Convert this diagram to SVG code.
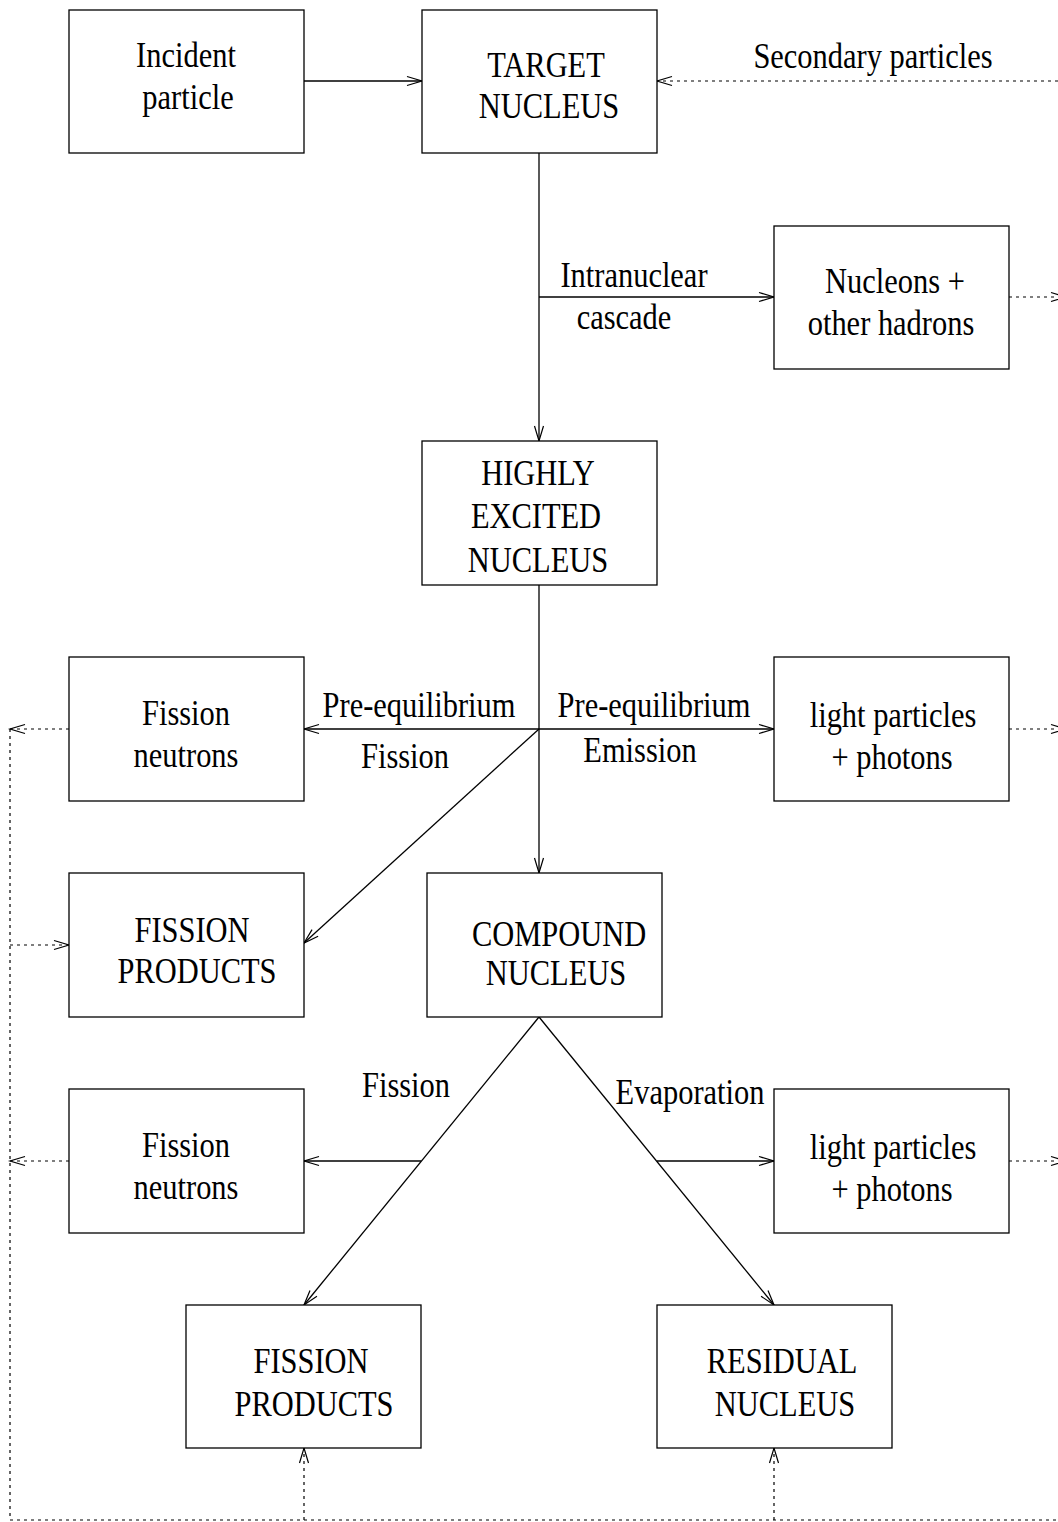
<svg xmlns="http://www.w3.org/2000/svg" width="1058" height="1522" viewBox="0 0 1058 1522">
<style>
.box{fill:#fff;stroke:#000;stroke-width:1.3}
.ln{fill:none;stroke:#000;stroke-width:1.3}
.dot{fill:none;stroke:#000;stroke-width:1.2;stroke-dasharray:3 4}
text{font-family:"Liberation Serif","Times New Roman",serif;font-size:35px;fill:#000;text-anchor:middle}
</style>
<defs>
<marker id="ah" markerUnits="userSpaceOnUse" markerWidth="20" markerHeight="12" refX="16" refY="6" orient="auto" overflow="visible">
<path d="M1,1.5 L16,6 L1,10.5" fill="none" stroke="#000" stroke-width="1.2"/>
</marker>
</defs>
<g id="connectors">
<line class="ln" x1="304" y1="81" x2="422" y2="81" marker-end="url(#ah)"/>
<line class="dot" x1="1058" y1="81" x2="657" y2="81" marker-end="url(#ah)"/>
<line class="ln" x1="539" y1="153" x2="539" y2="441" marker-end="url(#ah)"/>
<line class="ln" x1="539" y1="297" x2="774" y2="297" marker-end="url(#ah)"/>
<line class="dot" x1="1009" y1="297" x2="1066" y2="297" marker-end="url(#ah)"/>
<line class="ln" x1="539" y1="585" x2="539" y2="873" marker-end="url(#ah)"/>
<line class="ln" x1="539" y1="729" x2="304" y2="729" marker-end="url(#ah)"/>
<line class="ln" x1="539" y1="729" x2="774" y2="729" marker-end="url(#ah)"/>
<line class="ln" x1="539" y1="729" x2="304" y2="943" marker-end="url(#ah)"/>
<line class="dot" x1="69" y1="729" x2="10" y2="729" marker-end="url(#ah)"/>
<line class="dot" x1="1009" y1="729" x2="1066" y2="729" marker-end="url(#ah)"/>
<line class="dot" x1="10" y1="945" x2="69" y2="945" marker-end="url(#ah)"/>
<line class="ln" x1="539" y1="1017" x2="304" y2="1305" marker-end="url(#ah)"/>
<line class="ln" x1="539" y1="1017" x2="774" y2="1305" marker-end="url(#ah)"/>
<line class="ln" x1="421" y1="1161" x2="304" y2="1161" marker-end="url(#ah)"/>
<line class="ln" x1="657" y1="1161" x2="774" y2="1161" marker-end="url(#ah)"/>
<line class="dot" x1="69" y1="1161" x2="10" y2="1161" marker-end="url(#ah)"/>
<line class="dot" x1="1009" y1="1161" x2="1066" y2="1161" marker-end="url(#ah)"/>
<line class="dot" x1="10" y1="729" x2="10" y2="1520"/>
<line class="dot" x1="10" y1="1520" x2="1058" y2="1520"/>
<line class="dot" x1="304" y1="1520" x2="304" y2="1448" marker-end="url(#ah)"/>
<line class="dot" x1="774" y1="1520" x2="774" y2="1448" marker-end="url(#ah)"/>
</g>
<g id="labels">
<text transform="translate(873,68) scale(0.87,1)">Secondary particles</text>
<text transform="translate(634,287) scale(0.87,1)">Intranuclear</text>
<text transform="translate(624,329) scale(0.87,1)">cascade</text>
<text transform="translate(419,717) scale(0.87,1)">Pre-equilibrium</text>
<text transform="translate(405,768) scale(0.87,1)">Fission</text>
<text transform="translate(654,717) scale(0.87,1)">Pre-equilibrium</text>
<text transform="translate(640,762) scale(0.87,1)">Emission</text>
<text transform="translate(406,1097) scale(0.87,1)">Fission</text>
<text transform="translate(690,1104) scale(0.87,1)">Evaporation</text>
</g>
<g id="incident">
<rect class="box" x="69" y="10" width="235" height="143"/>
<text transform="translate(186,67) scale(0.87,1)">Incident</text>
<text transform="translate(188,109) scale(0.87,1)">particle</text>
</g>
<g id="target">
<rect class="box" x="422" y="10" width="235" height="143"/>
<text transform="translate(546,77) scale(0.87,1)">TARGET</text>
<text transform="translate(549,118) scale(0.87,1)">NUCLEUS</text>
</g>
<g id="nucleons">
<rect class="box" x="774" y="226" width="235" height="143"/>
<text transform="translate(895,293) scale(0.87,1)">Nucleons +</text>
<text transform="translate(891,335) scale(0.87,1)">other hadrons</text>
</g>
<g id="excited">
<rect class="box" x="422" y="441" width="235" height="144"/>
<text transform="translate(538,485) scale(0.87,1)">HIGHLY</text>
<text transform="translate(536,528) scale(0.87,1)">EXCITED</text>
<text transform="translate(538,572) scale(0.87,1)">NUCLEUS</text>
</g>
<g id="fneutrons1">
<rect class="box" x="69" y="657" width="235" height="144"/>
<text transform="translate(186,725) scale(0.87,1)">Fission</text>
<text transform="translate(186,767) scale(0.87,1)">neutrons</text>
</g>
<g id="light1">
<rect class="box" x="774" y="657" width="235" height="144"/>
<text transform="translate(893,727) scale(0.87,1)">light particles</text>
<text transform="translate(892,769) scale(0.87,1)">+ photons</text>
</g>
<g id="fproducts1">
<rect class="box" x="69" y="873" width="235" height="144"/>
<text transform="translate(192,942) scale(0.87,1)">FISSION</text>
<text transform="translate(197,983) scale(0.87,1)">PRODUCTS</text>
</g>
<g id="compound">
<rect class="box" x="427" y="873" width="235" height="144"/>
<text transform="translate(559,946) scale(0.87,1)">COMPOUND</text>
<text transform="translate(556,985) scale(0.87,1)">NUCLEUS</text>
</g>
<g id="fneutrons2">
<rect class="box" x="69" y="1089" width="235" height="144"/>
<text transform="translate(186,1157) scale(0.87,1)">Fission</text>
<text transform="translate(186,1199) scale(0.87,1)">neutrons</text>
</g>
<g id="light2">
<rect class="box" x="774" y="1089" width="235" height="144"/>
<text transform="translate(893,1159) scale(0.87,1)">light particles</text>
<text transform="translate(892,1201) scale(0.87,1)">+ photons</text>
</g>
<g id="fproducts2">
<rect class="box" x="186" y="1305" width="235" height="143"/>
<text transform="translate(311,1373) scale(0.87,1)">FISSION</text>
<text transform="translate(314,1416) scale(0.87,1)">PRODUCTS</text>
</g>
<g id="residual">
<rect class="box" x="657" y="1305" width="235" height="143"/>
<text transform="translate(782,1373) scale(0.87,1)">RESIDUAL</text>
<text transform="translate(785,1416) scale(0.87,1)">NUCLEUS</text>
</g>
</svg>
